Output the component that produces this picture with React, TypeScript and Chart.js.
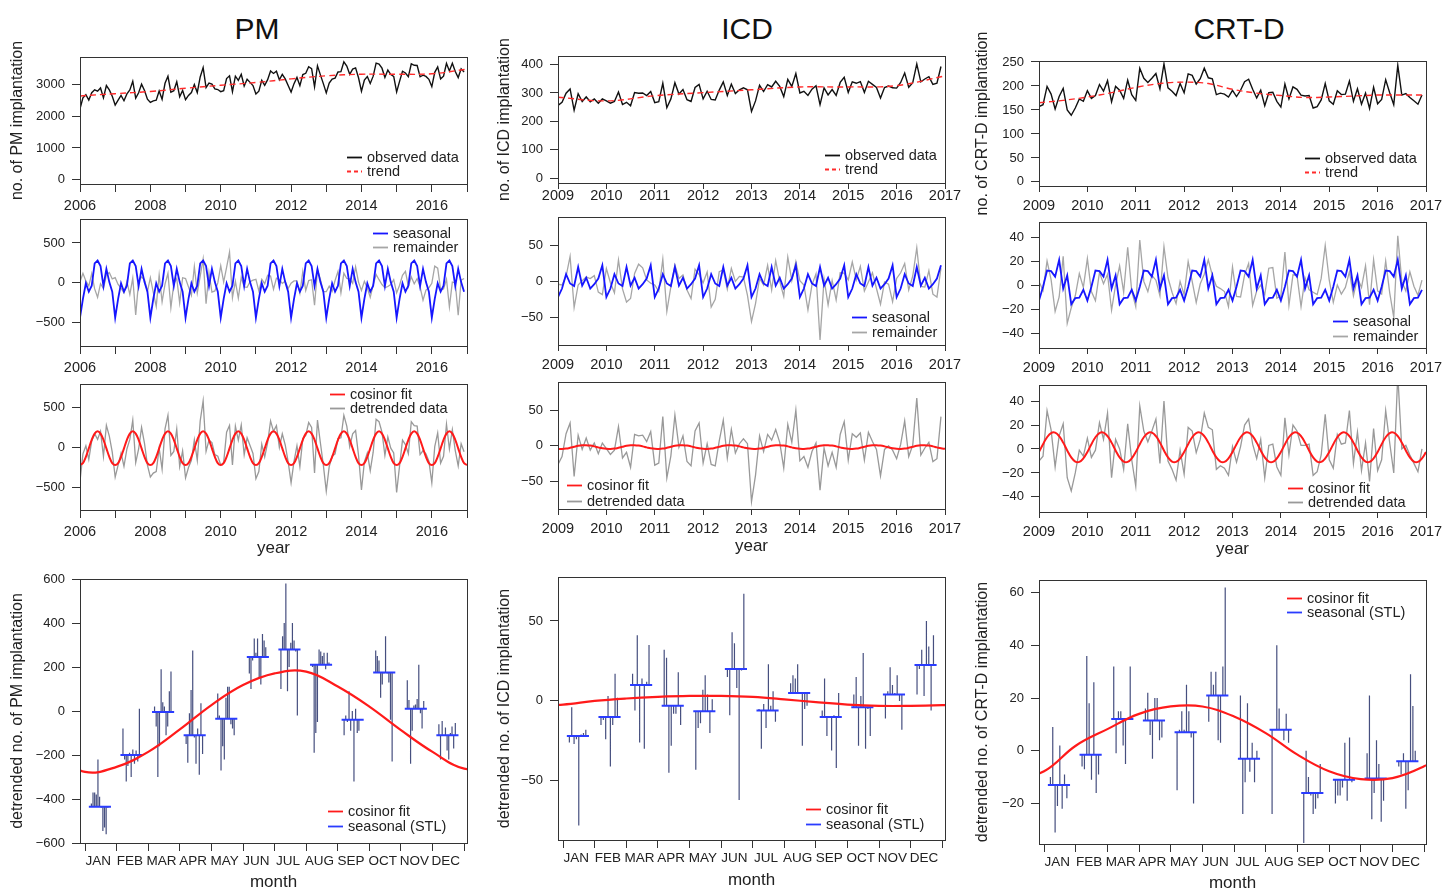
import React, { useEffect, useRef } from "react";
import { Chart, registerables } from "chart.js";

Chart.register(...registerables);

const FONT = "'Liberation Sans', Arial, Helvetica, sans-serif";
const INK = "#222222";
const AXIS_COLOR = "#333333";
Chart.defaults.font.family = FONT;
Chart.defaults.color = INK;

// ======================= DATA =======================
const MONTHS = ["JAN", "FEB", "MAR", "APR", "MAY", "JUN", "JUL", "AUG", "SEP", "OCT", "NOV", "DEC"];
const MONTH_TICKS = [0, 1, 2, 3, 4, 5, 6, 7, 8, 9, 10, 11, 12];

// ---------- PM (2006-2016) ----------
const PM_YEARS = [2006, 2007, 2008, 2009, 2010, 2011, 2012, 2013, 2014, 2015, 2016];
const PM_YEAR_TICKS = [2006, 2007, 2008, 2009, 2010, 2011, 2012, 2013, 2014, 2015, 2016, 2017];
const PM_Y_TICKS = [
  [0, 1000, 2000, 3000],
  [-500, 0, 500],
  [-500, 0, 500],
  [-600, -400, -200, 0, 200, 400, 600],
];
const PM_OBSERVED = [
  [2230, 2570, 2670, 2500, 2730, 2820, 2780, 2880, 2570, 2955, 2820, 2620],
  [2345, 2495, 2645, 2480, 2695, 2815, 3090, 2560, 2730, 3000, 2800, 2530],
  [2425, 2475, 2495, 2785, 2525, 3025, 3245, 2745, 2795, 3075, 2605, 2800],
  [2515, 2645, 2735, 2990, 2735, 3225, 3520, 2890, 3030, 3000, 2850, 2830],
  [2765, 2795, 3175, 3260, 2765, 3250, 3120, 3310, 2940, 3150, 3055, 2955],
  [2690, 2780, 3120, 2960, 3140, 3410, 3335, 3405, 3135, 3305, 3165, 2955],
  [2750, 3015, 3210, 2950, 3300, 3340, 3545, 3485, 2915, 3575, 3290, 3015],
  [2725, 3030, 3160, 3190, 3380, 3390, 3700, 3565, 3310, 3470, 3510, 3200],
  [2780, 3130, 3240, 3020, 3250, 3660, 3630, 3500, 3210, 3440, 3300, 3240],
  [2755, 3085, 3405, 3350, 3235, 3635, 3590, 3585, 3230, 3280, 3240, 3150],
  [2920, 3370, 3540, 3165, 3250, 3650, 3415, 3655, 3395, 3205, 3480, 3380],
];
const PM_TREND_T = [2006, 2007, 2008, 2009, 2010, 2011, 2012, 2013, 2014, 2015, 2016, 2017];
const PM_TREND = [2630, 2700, 2770, 2870, 2965, 3050, 3165, 3260, 3310, 3310, 3325, 3470];
const PM_SEASONAL = [-435, -200, -5, -110, -35, 245, 280, 210, -40, 175, 10, -110];
const PM_DETRENDED = [
  [-420, -80, 20, -150, 80, 170, 100, 200, -110, 275, 140, -60],
  [-370, -220, -70, -235, -20, 100, 340, -190, -20, 250, 50, -220],
  [-370, -320, -300, -10, -270, 230, 400, -100, -50, 230, -240, -45],
  [-380, -250, -160, 95, -160, 330, 580, -50, 90, 60, -90, -110],
  [-220, -190, 190, 275, -220, 265, 90, 280, -90, 120, 25, -75],
  [-390, -300, 40, -120, 60, 330, 200, 270, 0, 170, 30, -180],
  [-440, -175, 20, -240, 110, 150, 310, 250, -320, 340, 55, -220],
  [-545, -240, -110, -80, 110, 120, 400, 265, 10, 170, 210, -100],
  [-530, -180, -70, -290, -60, 350, 320, 190, -100, 130, -10, -70],
  [-560, -230, 90, 35, -80, 320, 270, 265, -90, -40, -80, -170],
  [-440, 10, 180, -195, -110, 290, -20, 220, -40, -230, 45, -55],
];
// cosinor fit read at each month of one (periodic) year
const PM_COSINOR_FIT = [-220, -196, -118, -12, 94, 172, 200, 172, 94, -12, -118, -196];
// cosinor curve of the month plot, read at month boundaries -1 .. 13
const PM_COSINOR_MONTH = [-200, -277, -254, -186, -84, 27, 118, 171, 179, 111, 20, -87, -186, -262, -250];

// ---------- ICD (2009-2016) ----------
const ICD_YEARS = [2009, 2010, 2011, 2012, 2013, 2014, 2015, 2016];
const ICD_YEAR_TICKS = [2009, 2010, 2011, 2012, 2013, 2014, 2015, 2016, 2017];
const ICD_Y_TICKS = [
  [0, 100, 200, 300, 400],
  [-50, 0, 50],
  [-50, 0, 50],
  [-50, 0, 50],
];
const ICD_OBSERVED = [
  [256, 267, 299, 314, 239, 297, 270, 286, 269, 279, 264, 279],
  [272, 264, 270, 303, 259, 267, 255, 301, 299, 300, 291, 305],
  [266, 269, 334, 248, 279, 336, 296, 312, 276, 270, 319, 330],
  [279, 306, 277, 275, 310, 339, 291, 331, 298, 311, 318, 311],
  [235, 272, 327, 305, 329, 321, 341, 323, 287, 348, 323, 368],
  [300, 306, 291, 313, 325, 259, 318, 293, 312, 291, 337, 355],
  [302, 339, 334, 340, 302, 341, 330, 319, 282, 319, 324, 318],
  [317, 337, 370, 320, 336, 402, 339, 349, 357, 330, 334, 393],
];
const ICD_TREND_T = [2009, 2010, 2011, 2012, 2013, 2014, 2015, 2016, 2017];
const ICD_TREND = [285, 272, 290, 301, 311, 321, 321, 326, 360];
const ICD_SEASONAL = [-22, -10, 10, -3, -6.5, 20, -6, 5, -10, -4, 4, 22.5];
const ICD_DETRENDED = [
  [-26, -15, 17, 32, -43, 15, -5, 11, -6, 4, -11, 4],
  [-4, -12, -6, 27, -17, -9, -30, 16, 14, 15, 6, 20],
  [-27, -24, 41, -45, -14, 43, -2, 14, -22, -28, 21, 32],
  [-24, 3, -26, -28, 7, 36, -17, 23, -10, 3, 10, 3],
  [-78, -41, 14, -8, 16, 8, 23, 5, -31, 30, 5, 50],
  [-21, -15, -30, -8, 4, -62, -3, -28, -9, -30, 16, 34],
  [-20, 17, 12, 18, -20, 19, 6, -5, -42, -5, 0, -6],
  [-18, 2, 35, -15, 1, 67, -13, -3, 5, -22, -18, 41],
];
const ICD_COSINOR_FIT = [-4.2, -4.3, -3.8, -2.7, -1.3, 0, 0.8, 1, 0.4, -0.7, -2.1, -3.4];
const ICD_COSINOR_MONTH = [-2.9, -2.3, 0, 1.5, 2.5, 3.1, 3.1, 2.5, 1, -0.8, -2.3, -3.1, -3.1, -2.7, -2];

// ---------- CRT-D (2009-2016) ----------
const CRT_YEARS = [2009, 2010, 2011, 2012, 2013, 2014, 2015, 2016];
const CRT_YEAR_TICKS = [2009, 2010, 2011, 2012, 2013, 2014, 2015, 2016, 2017];
const CRT_Y_TICKS = [
  [0, 50, 100, 150, 200, 250],
  [-40, -20, 0, 20, 40],
  [-40, -20, 0, 20, 40],
  [-20, 0, 20, 40, 60],
];
const CRT_OBSERVED = [
  [157, 161, 199, 183, 152, 178, 195, 150, 139, 154, 173, 168],
  [190, 174, 180, 203, 189, 211, 167, 199, 191, 174, 212, 182],
  [170, 237, 216, 207, 216, 226, 194, 246, 196, 189, 180, 205],
  [186, 225, 222, 204, 215, 237, 217, 215, 182, 185, 183, 177],
  [191, 178, 191, 209, 214, 193, 175, 191, 159, 186, 187, 168],
  [156, 204, 173, 198, 193, 181, 179, 180, 154, 157, 171, 205],
  [169, 162, 190, 182, 183, 210, 168, 194, 162, 185, 153, 197],
  [163, 172, 213, 186, 161, 243, 181, 184, 176, 169, 162, 181],
];
const CRT_TREND_T = [2009, 2009.5, 2010, 2010.5, 2011, 2011.5, 2012, 2012.5, 2013, 2013.5, 2014, 2014.5, 2015, 2015.5, 2016, 2016.5, 2017];
const CRT_TREND = [165, 170, 177, 186, 197, 205, 208, 205, 193, 185, 180, 176, 177, 179, 181, 181, 181];
const CRT_SEASONAL = [-13, -1.5, 12, 11.5, 7, 21, -3, 8, -16, -11, -10.5, -4];
const CRT_DETRENDED = [
  [-10, -6, 32, 16, -15, 11, 21, -24, -35, -20, -1, -6],
  [9, -7, -1, 22, 8, 30, -24, 8, 0, -17, 21, -9],
  [-31, 36, 15, 6, 15, 25, -12, 40, -10, -17, -26, -1],
  [-21, 18, 15, -3, 8, 30, 18, 16, -17, -14, -16, -22],
  [2, -11, 2, 20, 25, 4, -8, 8, -24, 3, 4, -15],
  [-22, 26, -5, 20, 15, 3, 3, 4, -22, -19, -5, 29],
  [-9, -16, 12, 4, 5, 32, -12, 14, -18, 5, -27, 17],
  [-18, -9, 32, 5, -20, 62, 0, 3, -5, -12, -19, 0],
];
const CRT_COSINOR_FIT = [-2.5, 4, 9.8, 13.3, 13.6, 10.7, 5.3, -1.2, -7, -10.5, -10.8, -7.9];
const CRT_COSINOR_MONTH = [-11, -7.8, 1.9, 8.2, 14, 16.8, 16.8, 13, 6.7, -1.5, -7.8, -10.8, -10.4, -5.9, 1];

// ======================= STYLE =======================
const C_OBS = "#111111";
const C_TREND = "#ff2b2b";
const C_SEAS = "#1616ff";
const C_REM = "#a6a6a6";
const C_COS = "#ff1a1a";
const C_DET = "#999999";
const C_STICK = "rgba(38,48,105,0.85)";
const C_BASE = "#2a3cff";

const STICK_FROM = 0.2;
const STICK_TO = 0.72;
const BASE_FROM = 0.12;
const BASE_TO = 0.82;

type Pt = { x: number; y: number | null };

const seriesFromRows = (years: number[], rows: number[][]): Pt[] =>
  years.flatMap((yr, i) => rows[i].map((v, m) => ({ x: yr + m / 12, y: v })));

const periodicSeries = (years: number[], monthly: number[], closeEnd: boolean): Pt[] => {
  const pts = seriesFromRows(years, years.map(() => monthly));
  if (closeEnd) pts.push({ x: years[years.length - 1] + 1, y: monthly[0] });
  return pts;
};

const knotSeries = (ts: number[], vs: number[]): Pt[] => ts.map((t, i) => ({ x: t, y: vs[i] }));

// STL identity: remainder = detrended - seasonal
const remainderRows = (det: number[][], seasonal: number[]) =>
  det.map((row) => row.map((v, m) => v - seasonal[m]));

const monthSticks = (rows: number[][], seasonal: number[]): Pt[] => {
  const pts: Pt[] = [];
  const n = rows.length;
  for (let m = 0; m < 12; m++) {
    for (let k = 0; k < n; k++) {
      const x = m + STICK_FROM + ((STICK_TO - STICK_FROM) * k) / (n - 1);
      pts.push({ x, y: seasonal[m] }, { x, y: rows[k][m] }, { x, y: null });
    }
  }
  return pts;
};

const seasonalBars = (seasonal: number[]): Pt[] =>
  seasonal.flatMap((s, m) => [
    { x: m + BASE_FROM, y: s },
    { x: m + BASE_TO, y: s },
    { x: m + BASE_TO, y: null },
  ]);

const monthCurve = (vals: number[]): Pt[] => vals.map((v, i) => ({ x: i - 1, y: v }));

const line = (data: Pt[], color: string, width: number, extra: any = {}) => ({
  type: "line",
  data,
  borderColor: color,
  backgroundColor: color,
  borderWidth: width,
  pointRadius: 0,
  fill: false,
  tension: 0,
  spanGaps: false,
  ...extra,
});

// ======================= PANELS =======================
type LegendItem = { label: string; color: string; dash?: number[]; width?: number };
type PanelSpec = {
  id: string;
  left: number;
  top: number;
  width: number;
  height: number;
  yMin: number;
  yMax: number;
  yTicks: number[];
  xMode: "year" | "month";
  xMin: number;
  xMax: number;
  xTicks: number[];
  evenOnly?: boolean;
  xTickLen: number;
  xTickPad: number;
  axisH: number;
  yTitle?: string;
  yTitlePad?: number;
  xTitle?: string;
  xTitlePad?: number;
  datasets: any[];
  legend: { dx: number; dy: number; gap: number; items: LegendItem[] };
};

const AXIS_W = 75;
const PAD_TOP = 34;
const PAD_RIGHT = 24;

const L_OBS: LegendItem[] = [
  { label: "observed data", color: C_OBS },
  { label: "trend", color: C_TREND, dash: [4, 3] },
];
const L_STL: LegendItem[] = [
  { label: "seasonal", color: C_SEAS },
  { label: "remainder", color: C_REM },
];
const L_COS: LegendItem[] = [
  { label: "cosinor fit", color: C_COS },
  { label: "detrended data", color: C_DET },
];
const L_MON: LegendItem[] = [
  { label: "cosinor fit", color: C_COS },
  { label: "seasonal (STL)", color: C_BASE },
];

type Dev = {
  key: string;
  name: string;
  years: number[];
  yearTicks: number[];
  yTicks: number[][];
  observed: number[][];
  trendT: number[];
  trend: number[];
  seasonal: number[];
  detrended: number[][];
  cosFit: number[];
  cosMonth: number[];
  left: number;
  yTitlePad: number;
  evenOnly: boolean;
  xTickLen: number;
  tops: number[];
  heights: number[];
  yRanges: number[][];
  xMaxMonth: number;
  r1TickPad: number;
  legends: number[][];
  yearTitlePad: number;
  monthTitlePad: number;
};

const buildPanels = (d: Dev): PanelSpec[] => {
  const x0 = d.years[0];
  const x1 = d.years[d.years.length - 1] + 1;
  const rem = remainderRows(d.detrended, d.seasonal);
  const common = { left: d.left, width: 387 };
  const yr = (i: number) => ({ yMin: d.yRanges[i][0], yMax: d.yRanges[i][1], yTicks: d.yTicks[i] });
  const lg = (i: number, items: LegendItem[]) => ({ dx: d.legends[i][0], dy: d.legends[i][1], gap: d.legends[i][2], items });
  return [
    {
      id: d.key + "1", ...common, top: d.tops[0], height: d.heights[0], ...yr(0),
      xMode: "year", xMin: x0, xMax: x1, xTicks: d.yearTicks, evenOnly: d.evenOnly, xTickLen: d.xTickLen,
      xTickPad: d.r1TickPad, axisH: 44,
      yTitle: `no. of ${d.name} implantation`, yTitlePad: d.yTitlePad,
      datasets: [
        line(knotSeries(d.trendT, d.trend), C_TREND, 1.4, { borderDash: [6, 4], tension: 0.4 }),
        line(seriesFromRows(d.years, d.observed), C_OBS, 1.4),
      ],
      legend: lg(0, L_OBS),
    },
    {
      id: d.key + "2", ...common, top: d.tops[1], height: d.heights[1], ...yr(1),
      xMode: "year", xMin: x0, xMax: x1, xTicks: d.yearTicks, evenOnly: d.evenOnly, xTickLen: d.xTickLen,
      xTickPad: 5, axisH: 30,
      datasets: [
        line(periodicSeries(d.years, d.seasonal, false), C_SEAS, 1.8),
        line(seriesFromRows(d.years, rem), C_REM, 1.3),
      ],
      legend: lg(1, L_STL),
    },
    {
      id: d.key + "3", ...common, top: d.tops[2], height: d.heights[2], ...yr(2),
      xMode: "year", xMin: x0, xMax: x1, xTicks: d.yearTicks, evenOnly: d.evenOnly, xTickLen: d.xTickLen,
      xTickPad: 5, axisH: 52,
      xTitle: "year", xTitlePad: d.yearTitlePad,
      datasets: [
        line(periodicSeries(d.years, d.cosFit, true), C_COS, 2, { tension: 0.4 }),
        line(seriesFromRows(d.years, d.detrended), C_DET, 1.3),
      ],
      legend: lg(2, L_COS),
    },
    {
      id: d.key + "4", ...common, top: d.tops[3], height: d.heights[3], ...yr(3),
      xMode: "month", xMin: -0.16, xMax: d.xMaxMonth, xTicks: MONTH_TICKS, xTickLen: 8, xTickPad: 2, axisH: 52,
      yTitle: `detrended no. of ${d.name} implantation`, yTitlePad: d.yTitlePad,
      xTitle: "month", xTitlePad: d.monthTitlePad,
      datasets: [
        line(monthCurve(d.cosMonth), C_COS, 2.2, { tension: 0.4 }),
        line(seasonalBars(d.seasonal), C_BASE, 2),
        line(monthSticks(d.detrended, d.seasonal), C_STICK, 1.2),
      ],
      legend: lg(3, L_MON),
    },
  ];
};

const PANELS: PanelSpec[] = [
  ...buildPanels({
    key: "pm", name: "PM", years: PM_YEARS, yearTicks: PM_YEAR_TICKS, yTicks: PM_Y_TICKS,
    observed: PM_OBSERVED, trendT: PM_TREND_T, trend: PM_TREND,
    seasonal: PM_SEASONAL, detrended: PM_DETRENDED, cosFit: PM_COSINOR_FIT, cosMonth: PM_COSINOR_MONTH,
    left: 80, yTitlePad: 3.4, evenOnly: true, xTickLen: 8,
    tops: [57, 219, 384, 579], heights: [127, 127, 126, 264],
    yRanges: [[-130, 3850], [-790, 800], [-780, 790], [-600, 600]],
    xMaxMonth: 12.09, r1TickPad: 5,
    legends: [[267, 100, 14], [293, 14, 14], [250, 10, 14.3], [248, 232, 15]],
    yearTitlePad: 3.8, monthTitlePad: 2.8,
  }),
  ...buildPanels({
    key: "icd", name: "ICD", years: ICD_YEARS, yearTicks: ICD_YEAR_TICKS, yTicks: ICD_Y_TICKS,
    observed: ICD_OBSERVED, trendT: ICD_TREND_T, trend: ICD_TREND,
    seasonal: ICD_SEASONAL, detrended: ICD_DETRENDED, cosFit: ICD_COSINOR_FIT, cosMonth: ICD_COSINOR_MONTH,
    left: 558, yTitlePad: 12.4, evenOnly: false, xTickLen: 6,
    tops: [56, 217, 382, 577], heights: [127, 128, 127, 263],
    yRanges: [[-17, 430], [-89, 90], [-88.5, 89.5], [-87, 77.5]],
    xMaxMonth: 12.085, r1TickPad: -2,
    legends: [[267, 99, 14], [294, 100, 15], [9, 103, 15.5], [248, 232, 15]],
    yearTitlePad: 4.8, monthTitlePad: 1.8,
  }),
  ...buildPanels({
    key: "crt", name: "CRT-D", years: CRT_YEARS, yearTicks: CRT_YEAR_TICKS, yTicks: CRT_Y_TICKS,
    observed: CRT_OBSERVED, trendT: CRT_TREND_T, trend: CRT_TREND,
    seasonal: CRT_SEASONAL, detrended: CRT_DETRENDED, cosFit: CRT_COSINOR_FIT, cosMonth: CRT_COSINOR_MONTH,
    left: 1039, yTitlePad: 9.4, evenOnly: false, xTickLen: 6,
    tops: [61, 222, 385, 580], heights: [125, 126, 127, 264],
    yRanges: [[-8.5, 252], [-52.5, 52.5], [-52.6, 53.4], [-35.4, 64.8]],
    xMaxMonth: 12.06, r1TickPad: 5,
    legends: [[266, 97, 14.4], [294, 99, 15], [249, 103, 14], [248, 18, 14.4]],
    yearTitlePad: 4.8, monthTitlePad: 2.8,
  }),
];

const TITLES = [
  { text: "PM", x: 257 },
  { text: "ICD", x: 747 },
  { text: "CRT-D", x: 1239 },
];

const fmtNum = (v: number) => String(v).replace("-", "\u2212");

function ChartPanel({ spec }: { spec: PanelSpec }) {
  const ref = useRef<HTMLCanvasElement | null>(null);
  const cw = AXIS_W + spec.width + PAD_RIGHT;
  const ch = PAD_TOP + spec.height + spec.axisH;

  useEffect(() => {
    const canvas = ref.current;
    if (!canvas) return;

    const boxPlugin = {
      id: "box_" + spec.id,
      afterDatasetsDraw(chart: any) {
        const { ctx, chartArea: a } = chart;
        ctx.save();
        ctx.strokeStyle = AXIS_COLOR;
        ctx.lineWidth = 1;
        ctx.setLineDash([]);
        ctx.strokeRect(a.left + 0.5, a.top + 0.5, a.right - a.left, a.bottom - a.top);
        ctx.restore();
      },
    };

    const legendPlugin = {
      id: "lg_" + spec.id,
      afterDraw(chart: any) {
        const { ctx, chartArea: a } = chart;
        ctx.save();
        ctx.font = `14.5px ${FONT}`;
        ctx.textBaseline = "middle";
        ctx.textAlign = "left";
        spec.legend.items.forEach((it, i) => {
          const x = a.left + spec.legend.dx;
          const y = Math.round(a.top + spec.legend.dy + i * spec.legend.gap) + 0.5;
          ctx.strokeStyle = it.color;
          ctx.lineWidth = it.width ?? 1.8;
          ctx.setLineDash(it.dash ?? []);
          ctx.beginPath();
          ctx.moveTo(x, y);
          ctx.lineTo(x + 15, y);
          ctx.stroke();
          ctx.setLineDash([]);
          ctx.fillStyle = INK;
          ctx.fillText(it.label, x + 20, y);
        });
        ctx.restore();
      },
    };

    const tickGrid = (len: number) => ({
      display: true,
      drawOnChartArea: false,
      drawTicks: true,
      tickLength: len,
      color: AXIS_COLOR,
      tickColor: AXIS_COLOR,
      lineWidth: 1,
    });

    const xTicks =
      spec.xMode === "year"
        ? {
            autoSkip: false,
            maxRotation: 0,
            minRotation: 0,
            padding: spec.xTickPad,
            color: INK,
            font: { size: 14.5, family: FONT },
            callback: (v: any) => (spec.evenOnly ? (Number(v) % 2 === 0 ? String(v) : "") : String(v)),
          }
        : {
            autoSkip: false,
            maxRotation: 0,
            minRotation: 0,
            padding: spec.xTickPad,
            labelOffset: 13.3,
            color: INK,
            font: { size: 13.5, family: FONT },
            callback: (v: any) => MONTHS[Number(v)] ?? "",
          };

    const chart = new Chart(canvas, {
      type: "line",
      data: { datasets: spec.datasets as any },
      options: {
        responsive: false,
        animation: false,
        devicePixelRatio: 1,
        events: [],
        layout: { padding: { top: PAD_TOP, right: PAD_RIGHT, left: 0, bottom: 0 } },
        plugins: {
          legend: { display: false },
          tooltip: { enabled: false },
          title: { display: false },
        },
        elements: { point: { radius: 0 } },
        scales: {
          x: {
            type: "linear",
            bounds: "data",
            min: spec.xMin,
            max: spec.xMax,
            afterBuildTicks: (s: any) => {
              s.ticks = spec.xTicks.map((v) => ({ value: v }));
            },
            afterFit: (s: any) => {
              s.height = spec.axisH;
            },
            border: { display: false },
            grid: tickGrid(spec.xTickLen),
            ticks: xTicks as any,
            title: spec.xTitle
              ? {
                  display: true,
                  text: spec.xTitle,
                  color: INK,
                  font: { size: 17, family: FONT },
                  padding: { top: 0, bottom: spec.xTitlePad ?? 0 },
                }
              : { display: false },
          },
          y: {
            type: "linear",
            bounds: "data",
            min: spec.yMin,
            max: spec.yMax,
            afterBuildTicks: (s: any) => {
              s.ticks = spec.yTicks.map((v) => ({ value: v }));
            },
            afterFit: (s: any) => {
              s.width = AXIS_W;
            },
            border: { display: false },
            grid: tickGrid(8),
            ticks: {
              autoSkip: false,
              padding: 7,
              color: INK,
              font: { size: 13, family: FONT },
              callback: (v: any) => fmtNum(Number(v)),
            },
            title: spec.yTitle
              ? {
                  display: true,
                  text: spec.yTitle,
                  color: INK,
                  font: { size: 16, family: FONT },
                  padding: { top: spec.yTitlePad ?? 0, bottom: 0 },
                }
              : { display: false },
          },
        },
      } as any,
      plugins: [boxPlugin, legendPlugin],
    });

    return () => {
      chart.destroy();
    };
  }, [spec]);

  return (
    <canvas
      ref={ref}
      width={cw}
      height={ch}
      style={{
        position: "absolute",
        left: spec.left - AXIS_W,
        top: spec.top - PAD_TOP,
        width: cw,
        height: ch,
      }}
    />
  );
}

export default function App() {
  return (
    <div
      style={{
        position: "absolute",
        left: 0,
        top: 0,
        width: 1444,
        height: 890,
        background: "#ffffff",
        overflow: "hidden",
        fontFamily: FONT,
      }}
    >
      {TITLES.map((t) => (
        <div
          key={t.text}
          style={{
            position: "absolute",
            left: t.x - 100,
            top: 12,
            width: 200,
            textAlign: "center",
            fontSize: 30,
            lineHeight: "34px",
            color: "#111",
          }}
        >
          {t.text}
        </div>
      ))}
      {PANELS.map((p) => (
        <ChartPanel key={p.id} spec={p} />
      ))}
    </div>
  );
}
